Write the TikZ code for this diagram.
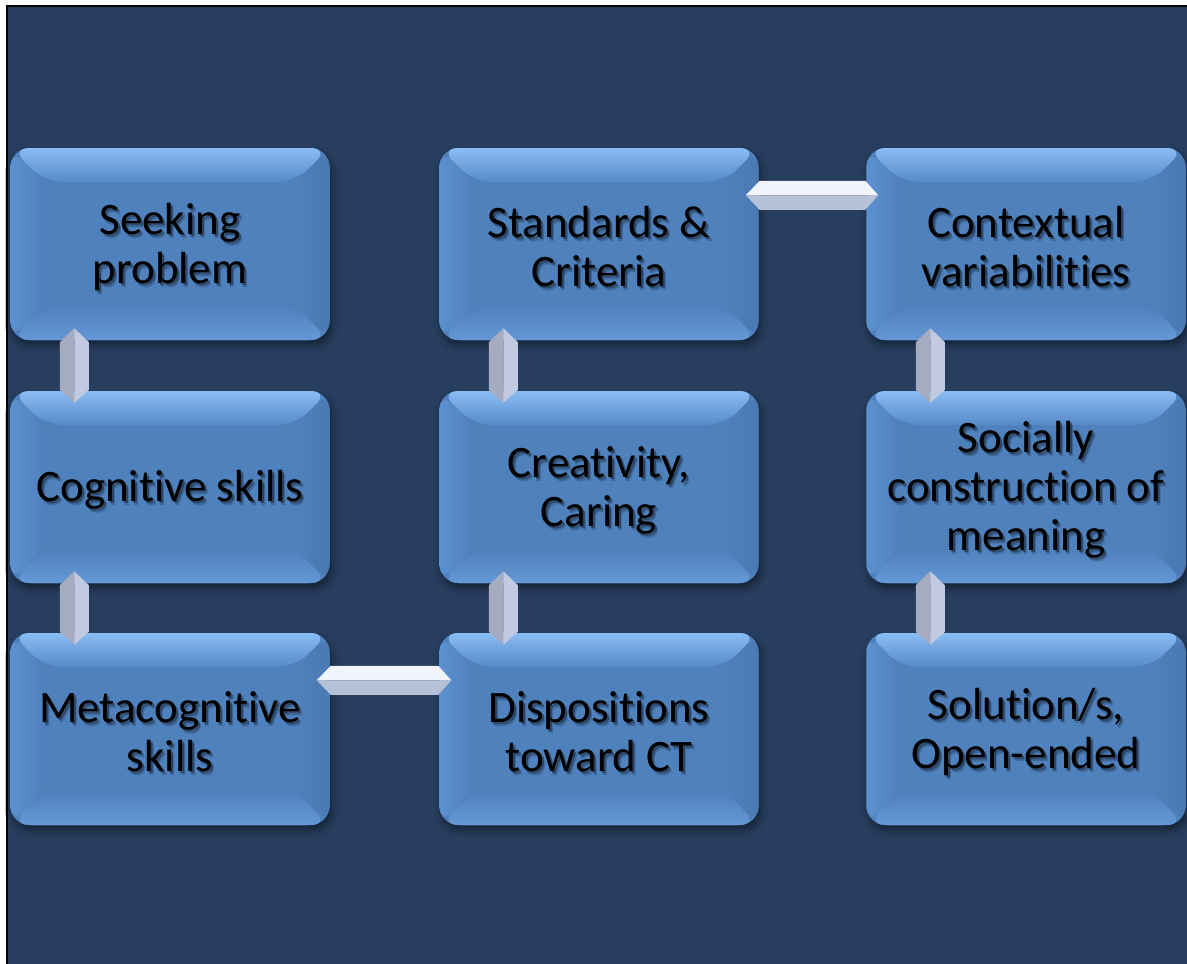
\documentclass[tikz,border=0pt]{standalone}
\usepackage{fontspec}
\setmainfont[Ligatures=NoCommon]{Carlito}
\usetikzlibrary{calc,shadows.blur}

\definecolor{slidebg}{RGB}{39,62,95}
\definecolor{boxblue}{RGB}{79,129,189}
\definecolor{bevtop}{RGB}{138,188,244}
\definecolor{bevtopin}{RGB}{86,138,200}
\definecolor{bevleft}{RGB}{92,145,207}
\definecolor{bevright}{RGB}{74,121,179}
\definecolor{bevbot}{RGB}{100,152,214}
\definecolor{linkdark}{RGB}{165,172,191}
\definecolor{linklight}{RGB}{193,202,224}
\definecolor{linktop}{RGB}{240,244,251}
\definecolor{linkbot}{RGB}{182,193,216}

% one bevelled box with its caption and the caption's soft shadow
\newcommand{\cell}[3]{%
 \node[box] (#1) at (#2) {};
 \node[txt,opacity=0.18] (#1-sh2) at ($(#1)+(3,7)$) {#3};
 \node[txt,opacity=0.35] (#1-sh) at ($(#1)+(2,5)$) {#3};
 \node[txt] (#1-txt) at ($(#1)+(0,3)$) {#3};}

% double-headed block arrows between two boxes
\newcommand{\vlink}[2]{%
 \fill[linkdark] ($(#1.south west)+(64,-12)$) -- ($(#1.south west)+(49.5,2)$)
   -- ($(#2.north west)+(49.5,-1)$) -- ($(#2.north west)+(64,12)$) -- cycle;
 \fill[linklight] ($(#1.south west)+(64,-12)$) -- ($(#1.south west)+(78.5,2)$)
   -- ($(#2.north west)+(78.5,-1)$) -- ($(#2.north west)+(64,12)$) -- cycle;}
\newcommand{\hlink}[2]{%
 \fill[linktop] ($(#1.north east)+(-13,47.5)$) -- ($(#1.north east)+(1,33)$)
   -- ($(#2.north west)+(-1,33)$) -- ($(#2.north west)+(12,47.5)$) -- cycle;
 \fill[linkbot] ($(#1.north east)+(-13,47.5)$) -- ($(#1.north east)+(1,62)$)
   -- ($(#2.north west)+(-1,62)$) -- ($(#2.north west)+(12,47.5)$) -- cycle;}

\begin{document}
\begin{tikzpicture}[x=1pt,y=-1pt,
 txt/.style={align=center,text=black,inner sep=0pt,font=\fontsize{45}{49}\selectfont},
 box/.style={rectangle,rounded corners=19pt,minimum width=319pt,minimum height=192pt,
  inner sep=0pt,fill=boxblue,
  blur shadow={shadow xshift=2pt,shadow yshift=-5pt,shadow opacity=45,shadow blur radius=7pt},
  path picture={
   \coordinate (nw) at (path picture bounding box.north west);
   \coordinate (ne) at (path picture bounding box.north east);
   \coordinate (sw) at (path picture bounding box.south west);
   \coordinate (se) at (path picture bounding box.south east);
   \fill[top color=bevtop,bottom color=bevtopin] (nw) -- (ne) -- ($(ne)+(-34,34)$) -- ($(nw)+(34,34)$) -- cycle;
   \fill[left color=bevleft,right color=boxblue] (nw) -- ($(nw)+(34,34)$) -- ($(sw)+(34,-34)$) -- (sw) -- cycle;
   \fill[right color=bevright,left color=boxblue] (ne) -- ($(ne)+(-34,34)$) -- ($(se)+(-34,-34)$) -- (se) -- cycle;
   \fill[top color=boxblue,bottom color=bevbot] (sw) -- ($(sw)+(34,-34)$) -- ($(se)+(-34,-34)$) -- (se) -- cycle;
  }}]
\useasboundingbox (0,0) rectangle (1187,964);
\fill[white] (0,0) rectangle (1187,964);
\fill[slidebg] (7,6) rectangle (1187,964);
\draw[black,line width=2pt] (7,964) -- (7,6) -- (1187,6);

\cell{seek}{170,244}{Seeking\\problem}
\cell{cogn}{170,487}{Cognitive skills}
\cell{meta}{170,729}{Metacognitive\\skills}
\cell{stand}{599,244}{Standards \&\\Criteria}
\cell{creat}{599,487}{Creativity,\\Caring}
\cell{disp}{599,729}{Dispositions\\toward CT}
\cell{context}{1026,244}{Contextual\\variabilities}
\cell{social}{1026,487}{Socially\\construction of\\meaning}
\cell{solut}{1026,729}{Solution/s,\\Open-ended}

\vlink{seek}{cogn}
\vlink{cogn}{meta}
\hlink{meta}{disp}
\vlink{creat}{disp}
\vlink{stand}{creat}
\hlink{stand}{context}
\vlink{context}{social}
\vlink{social}{solut}
\end{tikzpicture}
\end{document}
